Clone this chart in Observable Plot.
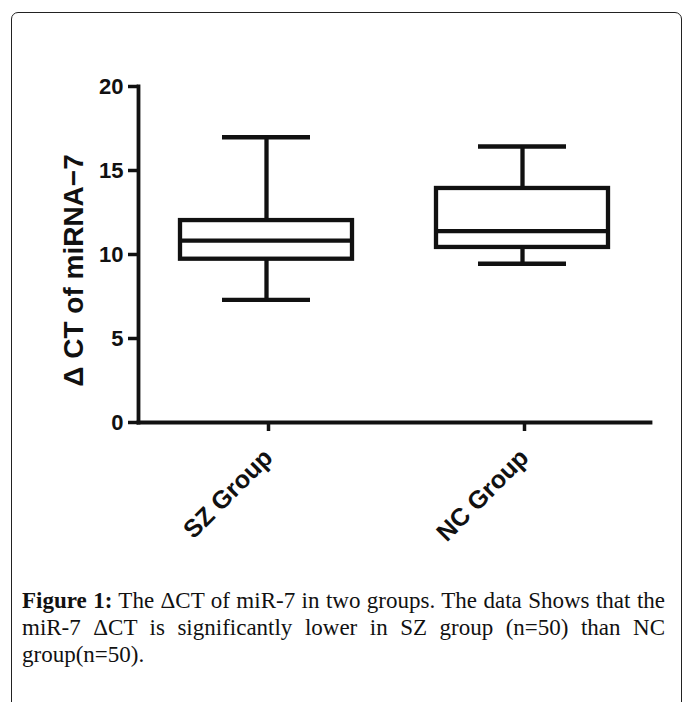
<!DOCTYPE html>
<html>
<head>
<meta charset="utf-8">
<script src="https://cdn.jsdelivr.net/npm/d3@7"></script>
<script src="https://cdn.jsdelivr.net/npm/@observablehq/plot@0.6"></script>
<style>
  html, body { margin: 0; padding: 0; background: #fff; }
  body { width: 683px; height: 702px; overflow: hidden; position: relative; }
  #border {
    position: absolute; left: 11px; top: 12px; width: 671px; height: 760px;
    border: 1.5px solid #222; border-radius: 7px; box-sizing: border-box;
  }
  #chart { position: absolute; left: 0; top: 0; }
  #caption {
    position: absolute; left: 22px; top: 587px; width: 643px;
    font-family: "Liberation Serif", "Times New Roman", serif;
    font-size: 23px; line-height: 27px; color: #111; text-align: justify;
  }
  #caption b { font-weight: bold; }
</style>
</head>
<body>
<div id="border"></div>
<div id="chart"></div>
<div id="caption"><b>Figure 1:</b> The ΔCT of miR-7 in two groups. The data Shows that the miR-7 ΔCT is significantly lower in SZ group (n=50) than NC group(n=50).</div>
<script>
// ---- data ----
const groups = ["SZ Group", "NC Group"];
const whiskerLow = [7.3, 9.45];
const q1 = [9.72, 10.42];
const median = [10.82, 11.39];
const q3 = [12.02, 13.93];
const whiskerHigh = [16.98, 16.43];
const yTicks = [0, 5, 10, 15, 20];
const yLabel = "Δ CT of miRNA−7";

const table = groups.map((g, i) => ({
  group: g, lo: whiskerLow[i], q1: q1[i], med: median[i], q3: q3[i], hi: whiskerHigh[i]
}));

const sw = 4.3;
const chart = Plot.plot({
  width: 683,
  height: 552,
  marginLeft: 138,
  marginRight: 33,
  marginTop: 86,
  marginBottom: 130,
  style: { fontFamily: "'Liberation Sans', Arial, sans-serif", color: "#111", background: "transparent" },
  x: { domain: groups, padding: 0 },
  y: { domain: [0, 20] },
  marks: [
    Plot.ruleX(table, { x: "group", y1: "lo", y2: "q1", strokeWidth: sw }),
    Plot.ruleX(table, { x: "group", y1: "q3", y2: "hi", strokeWidth: sw }),
    Plot.tickY(table, { x: "group", y: "lo", strokeWidth: sw, insetLeft: 84, insetRight: 84 }),
    Plot.tickY(table, { x: "group", y: "hi", strokeWidth: sw, insetLeft: 84, insetRight: 84 }),
    Plot.barY(table, { x: "group", y1: "q1", y2: "q3", fill: "white", stroke: "#111", strokeWidth: sw, insetLeft: 42, insetRight: 42 }),
    Plot.tickY(table, { x: "group", y: "med", strokeWidth: sw, insetLeft: 42, insetRight: 42 }),
    Plot.frame({ anchor: "left", strokeWidth: 3.8, strokeLinecap: "square" }),
    Plot.frame({ anchor: "bottom", strokeWidth: 3.8, strokeLinecap: "square" }),
    Plot.axisY({ ticks: yTicks, tickSize: 10, tickPadding: 5, strokeWidth: 3.5, fontSize: 22, fontWeight: "bold", label: null, tickFormat: d => String(d) }),
    Plot.axisX({ tickSize: 9, tickPadding: 22, tickRotate: -45, strokeWidth: 3.5, fontSize: 25, fontWeight: "bold", label: null, dx: 2 }),
    Plot.text([yLabel], { frameAnchor: "left", textAnchor: "middle", text: d => d, rotate: -90, dx: -64, dy: 16, fontSize: 28, fontWeight: "bold" })
  ]
});
document.getElementById("chart").appendChild(chart);
</script>
</body>
</html>
